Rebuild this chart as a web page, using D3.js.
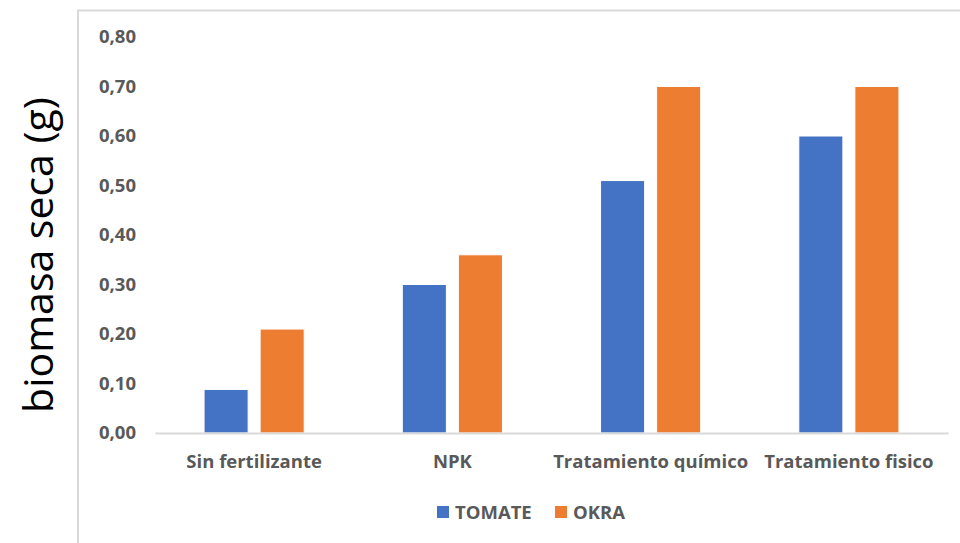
<!DOCTYPE html>
<html>
<head>
<meta charset="utf-8">
<script src="https://cdn.jsdelivr.net/npm/d3@7"></script>
<style>
  body { margin: 0; background: #fff; }
  text { font-family: "Open Sans", "Noto Sans", sans-serif; }
</style>
</head>
<body>
<div class="res"></div>
<script>
// data
const categories = ['Sin fertilizante', 'NPK', 'Tratamiento químico', 'Tratamiento fisico'];
const seriesNames = ['TOMATE', 'OKRA'];
const tomate = [0.088, 0.30, 0.51, 0.60];
const okra = [0.21, 0.36, 0.70, 0.70];
const yTicks = [0, 0.1, 0.2, 0.3, 0.4, 0.5, 0.6, 0.7, 0.8];
const colours = ['#4472C4', '#ED7D31'];

const W = 960, H = 543;
const margin = { top: 37, bottom: 110, left: 155, right: 12 };
const width = W - margin.left - margin.right;
const height = H - margin.top - margin.bottom;

const root = d3.select('div.res')
    .append('svg')
    .attr('width', W)
    .attr('height', H);

// outer frame (left and top edges visible)
root.append('path')
    .attr('d', `M78,${H} L78,10.5 L${W},10.5`)
    .attr('fill', 'none')
    .attr('stroke', '#d9d9d9')
    .attr('stroke-width', 2);

const svg = root.append('g')
    .attr('transform', `translate(${margin.left}, ${margin.top})`);

// scales
const xScale = d3.scaleBand()
    .domain(categories)
    .range([0, width]);

const xInner = d3.scaleBand()
    .domain(seriesNames)
    .range([0, xScale.bandwidth()])
    .paddingInner(0.214)
    .paddingOuter(0.875);

const yScale = d3.scaleLinear()
    .domain([0, 0.8])
    .range([height, 0]);

// y axis (labels only)
const yAxis = d3.axisLeft(yScale)
    .tickValues(yTicks)
    .tickSize(0)
    .tickPadding(19)
    .tickFormat(d => d3.format('.2f')(d).replace('.', ','));

svg.append('g')
    .call(yAxis)
    .call(g => g.select('.domain').remove())
    .selectAll('text')
    .style('font-size', '18.5px')
    .style('font-weight', 'bold')
    .attr('fill', '#595959');

// bars
const rows = categories.map((c, i) => ({ cat: c, vals: [tomate[i], okra[i]] }));

const groups = svg.selectAll('g.cat')
    .data(rows)
    .enter().append('g')
    .attr('class', 'cat')
    .attr('transform', d => `translate(${xScale(d.cat)}, 0)`);

groups.selectAll('rect')
    .data(d => d.vals.map((v, j) => ({ name: seriesNames[j], value: v, j: j })))
    .enter().append('rect')
    .attr('x', d => xInner(d.name))
    .attr('width', xInner.bandwidth())
    .attr('y', d => yScale(d.value))
    .attr('height', d => height - yScale(d.value))
    .attr('fill', d => colours[d.j])
    .attr('stroke', '#fff')
    .attr('stroke-width', 1);

// x axis
const xAxis = d3.axisBottom(xScale)
    .tickSize(0)
    .tickPadding(22);

svg.append('g')
    .attr('transform', `translate(0, ${height})`)
    .call(xAxis)
    .call(g => g.select('.domain')
        .attr('stroke', '#d9d9d9')
        .attr('stroke-width', 2))
    .selectAll('text')
    .style('font-size', '18.5px')
    .style('font-weight', 'bold')
    .attr('fill', '#595959');

// y axis title
root.append('text')
    .attr('transform', `translate(53, 255) rotate(-90)`)
    .attr('text-anchor', 'middle')
    .attr('fill', '#000')
    .style('font-size', '41px')
    .text('biomasa seca (g)');

// legend
const legend = root.append('g')
    .attr('transform', 'translate(437, 512)');

const legendX = [0, 118];
seriesNames.forEach((name, j) => {
    const item = legend.append('g')
        .attr('transform', `translate(${legendX[j]}, 0)`);
    item.append('rect')
        .attr('x', 0)
        .attr('y', -6)
        .attr('width', 12)
        .attr('height', 12)
        .attr('fill', colours[j]);
    item.append('text')
        .attr('x', 18)
        .attr('y', 7)
        .attr('fill', '#595959')
        .style('font-size', '18.5px')
        .style('font-weight', 'bold')
        .text(name);
});
</script>
</body>
</html>
